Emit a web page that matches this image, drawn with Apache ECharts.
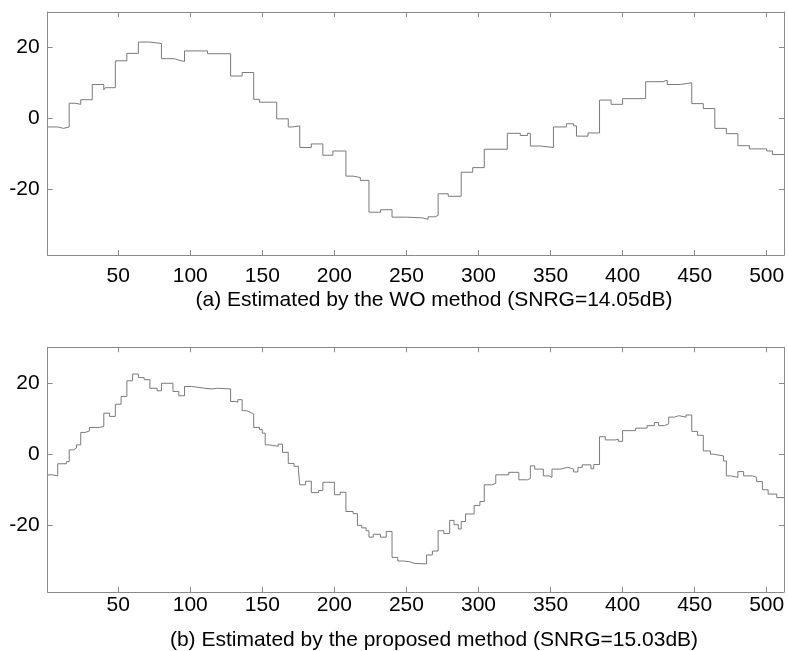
<!DOCTYPE html>
<html>
<head>
<meta charset="utf-8">
<script src="https://cdn.jsdelivr.net/npm/echarts@6/dist/echarts.min.js"></script>
<style>
  html, body { margin: 0; padding: 0; background: #fff; }
  #main { width: 788px; height: 651px; }
</style>
</head>
<body>
<div id="main"></div>
<script>
// step breakpoints: value holds from x until next x
var woX = [1, 8, 12, 16, 20, 24, 32, 40, 41, 48, 56, 64, 72, 80, 89, 92, 96, 112, 128, 136,
    144, 148, 160, 168, 171, 176, 184, 192, 199, 208, 213, 218, 224, 232, 240, 250, 261, 265, 270, 272,
    279, 288, 296, 304, 320, 329, 334, 336, 343, 352, 361, 366, 368, 376, 384, 392, 400, 416, 428, 431,
    440, 448, 456, 464, 472, 480, 488, 500, 504, 512];
var woY = [-2.5, -2.9, -2.5, 4.2, 3.9, 5.2, 9.5, 8.0, 8.6, 16.2, 18.3, 21.5, 21.1, 16.8, 16.4, 16.0, 19.0, 18.2, 11.9, 12.9,
    5.3, 4.5, -0.2, -2.5, -2.2, -8.3, -7.3, -10.5, -9.3, -16.4, -16.8, -17.6, -26.6, -25.9, -28.0, -28.2, -28.6, -27.9, -27.5, -21.4,
    -22.1, -15.3, -14.0, -8.8, -4.3, -4.9, -4.3, -7.9, -8.3, -2.5, -1.6, -2.2, -5.1, -4.2, 5.1, 3.9, 5.5, 10.3, 10.7, 9.5,
    10.0, 4.1, 2.7, -2.9, -4.4, -7.8, -8.7, -9.3, -10.3, -10.3];

var propX = [1, 4, 8, 14, 16, 19, 21, 24, 27, 30, 37, 40, 44, 48, 52, 56, 60, 64, 68, 72,
    77, 80, 88, 92, 96, 101, 110, 115, 119, 128, 131, 133, 136, 139, 142, 144, 148, 150, 152, 155,
    161, 164, 168, 172, 175, 176, 180, 184, 189, 192, 200, 204, 208, 213, 216, 219, 222, 224, 227, 232,
    236, 240, 244, 248, 252, 256, 264, 268, 272, 276, 280, 283, 286, 288, 291, 297, 301, 304, 309, 312,
    321, 328, 334, 336, 339, 345, 349, 351, 357, 362, 366, 369, 372, 378, 380, 384, 388, 395, 397, 400,
    409, 417, 422, 425, 429, 432, 436, 439, 444, 448, 452, 456, 461, 463, 470, 472, 475, 480, 484, 490,
    493, 497, 501, 507, 512];
var propY = [-5.8, -6.1, -2.7, -2.1, 1.2, 1.7, 2.6, 6.1, 6.5, 7.5, 7.8, 11.5, 10.6, 14.0, 16.2, 20.6, 22.5, 21.5, 20.9, 18.5,
    17.8, 19.9, 17.6, 16.4, 19.0, 18.5, 18.3, 18.5, 18.3, 14.8, 14.6, 15.3, 12.2, 11.7, 11.3, 7.5, 6.9, 5.9, 2.6, 2.2,
    2.8, 0.5, -2.6, -3.4, -4.4, -8.6, -7.6, -10.8, -10.2, -7.9, -11.4, -10.7, -16.1, -16.7, -20.0, -20.7, -21.5, -23.3, -22.5, -23.3,
    -21.7, -29.0, -30.0, -30.2, -30.7, -30.8, -28.3, -27.2, -21.5, -22.3, -18.6, -19.8, -21.0, -18.9, -16.8, -14.4, -13.3, -8.6, -8.2, -5.8,
    -5.1, -7.2, -6.8, -3.3, -4.2, -6.1, -6.5, -4.2, -3.7, -4.2, -5.0, -3.7, -3.0, -4.1, -2.9, 4.9, 4.0, 4.2, 3.6, 6.6,
    7.3, 8.0, 8.9, 8.0, 8.5, 10.4, 10.8, 10.4, 11.0, 6.4, 5.3, 0.9, 0.0, -0.5, -1.9, -6.1, -6.5, -4.9, -6.1, -6.5,
    -7.7, -10.0, -11.2, -12.2, -12.2];

var xTicks = [50, 100, 150, 200, 250, 300, 350, 400, 450, 500];
var yTicks = [-20, 0, 20];
var titles = ['(a) Estimated by the WO method (SNRG=14.05dB)',
              '(b) Estimated by the proposed method (SNRG=15.03dB)'];

var FONT = 'Liberation Sans, Arial, sans-serif';
var frame = '#8a8a8a';

function pairs(xs, ys) {
    var out = [];
    for (var i = 0; i < xs.length; i++) out.push([xs[i], ys[i]]);
    return out;
}

function xAx(grid, pos, labels, margin) {
    return {
        type: 'value', gridIndex: grid, position: pos, min: 1, max: 512,
        splitLine: {show: false},
        axisLine: {show: true, onZero: false, lineStyle: {color: frame, width: 1}},
        axisTick: {show: true, inside: true, length: 5, customValues: xTicks, lineStyle: {color: frame}},
        axisLabel: {show: labels, customValues: xTicks, margin: margin, fontSize: 21, color: '#000', fontFamily: FONT}
    };
}
function yAx(grid, pos, labels) {
    return {
        type: 'value', gridIndex: grid, position: pos, min: -38.7, max: 30,
        splitLine: {show: false},
        axisLine: {show: true, onZero: false, lineStyle: {color: frame, width: 1}},
        axisTick: {show: true, inside: true, length: 5, customValues: yTicks, lineStyle: {color: frame}},
        axisLabel: {show: labels, customValues: yTicks, margin: 8, fontSize: 21, color: '#000', fontFamily: FONT}
    };
}

var chart = echarts.init(document.getElementById('main'));
var option = {
    backgroundColor: '#fff',
    animation: false,
    grid: [
        {left: 47.6, width: 736.4, top: 12, height: 243},
        {left: 47.6, width: 736.4, top: 347.3, height: 244.7}
    ],
    xAxis: [xAx(0, 'bottom', true, 11), xAx(0, 'top', false, 8), xAx(1, 'bottom', true, 3), xAx(1, 'top', false, 8)],
    yAxis: [yAx(0, 'left', true), yAx(0, 'right', false), yAx(1, 'left', true), yAx(1, 'right', false)],
    series: [
        {type: 'line', xAxisIndex: 0, yAxisIndex: 0, step: 'end', showSymbol: false,
         lineStyle: {color: '#7a7a7a', width: 1}, data: pairs(woX, woY)},
        {type: 'line', xAxisIndex: 2, yAxisIndex: 2, step: 'end', showSymbol: false,
         lineStyle: {color: '#7a7a7a', width: 1}, data: pairs(propX, propY)}
    ],
    graphic: [
        {type: 'text', x: 434, y: 300, style: {text: titles[0], font: '21px ' + FONT, fill: '#000', align: 'center', verticalAlign: 'middle'}},
        {type: 'text', x: 434, y: 640, style: {text: titles[1], font: '21px ' + FONT, fill: '#000', align: 'center', verticalAlign: 'middle'}}
    ]
};
chart.setOption(option);
</script>
</body>
</html>
